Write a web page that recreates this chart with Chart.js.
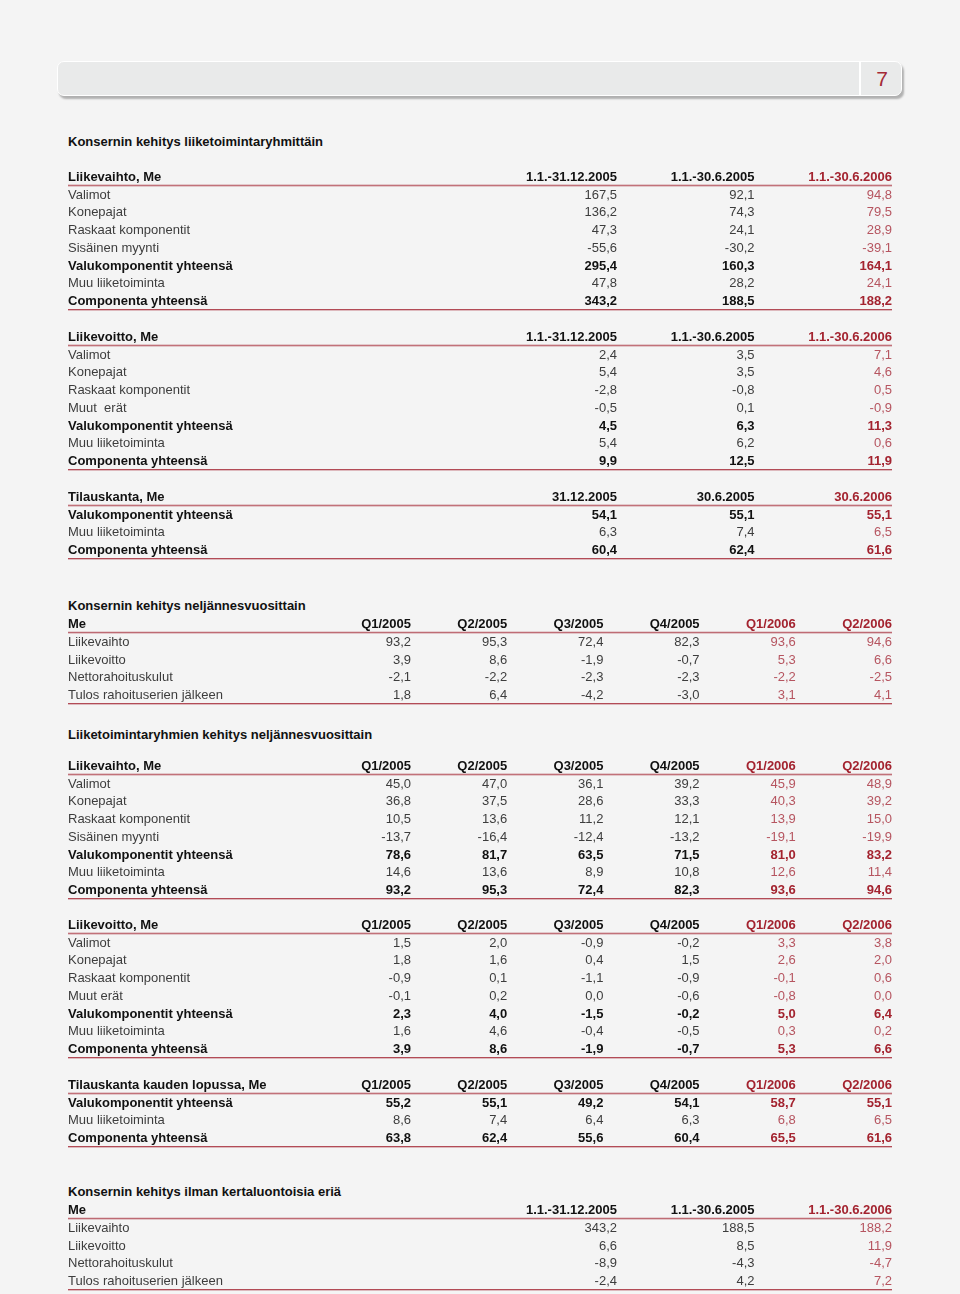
<!DOCTYPE html>
<html lang="fi">
<head>
<meta charset="utf-8">
<script src="https://cdn.jsdelivr.net/npm/chart.js@4/dist/chart.umd.min.js"></script>
<style>
  html, body { margin:0; padding:0; background:#f4f4f4; }
  body { width:960px; height:1294px; position:relative; overflow:hidden; font-family:"Liberation Sans", Arial, sans-serif; }
  .bar { position:absolute; left:57px; top:61px; width:843px; height:33px; background:#e9eaea; border:1.5px solid #fff; border-radius:7px; box-shadow:2px 3px 2px rgba(0,0,0,0.28); }
  .bar .sep { position:absolute; left:801px; top:0; width:1.5px; height:100%; background:#fff; }
  .bar .num { position:absolute; left:803px; width:42px; top:0; height:33px; line-height:33px; text-align:center; color:#a42a36; font-size:21px; font-family:"Liberation Sans", Arial, sans-serif; }
  .title { position:absolute; left:68px; height:18px; line-height:18px; font-size:13px; font-weight:bold; color:#111; white-space:nowrap; }
  canvas { position:absolute; left:0; }
</style>
</head>
<body>
<div class="bar"><div class="sep"></div><div class="num">7</div></div>

<script>
// ---------- column labels ----------
const colsPeriod = ['1.1.-31.12.2005', '1.1.-30.6.2005', '1.1.-30.6.2006'];
const colsOrderDate = ['31.12.2005', '30.6.2005', '30.6.2006'];
const colsQuarter = ['Q1/2005', 'Q2/2005', 'Q3/2005', 'Q4/2005', 'Q1/2006', 'Q2/2006'];

// ---------- row labels ----------
const rowsSales = ['Valimot', 'Konepajat', 'Raskaat komponentit', 'Sisäinen myynti', 'Valukomponentit yhteensä', 'Muu liiketoiminta', 'Componenta yhteensä'];
const rowsEbit = ['Valimot', 'Konepajat', 'Raskaat komponentit', 'Muut  erät', 'Valukomponentit yhteensä', 'Muu liiketoiminta', 'Componenta yhteensä'];
const rowsEbitQ = ['Valimot', 'Konepajat', 'Raskaat komponentit', 'Muut erät', 'Valukomponentit yhteensä', 'Muu liiketoiminta', 'Componenta yhteensä'];
const rowsOrders = ['Valukomponentit yhteensä', 'Muu liiketoiminta', 'Componenta yhteensä'];
const rowsGroup = ['Liikevaihto', 'Liikevoitto', 'Nettorahoituskulut', 'Tulos rahoituserien jälkeen'];
const boldRows = ['Valukomponentit yhteensä', 'Componenta yhteensä'];

// ---------- Liikevaihto, Me (periods) ----------
const salesFY2005 = [167.5, 136.2, 47.3, -55.6, 295.4, 47.8, 343.2];
const salesH1_2005 = [92.1, 74.3, 24.1, -30.2, 160.3, 28.2, 188.5];
const salesH1_2006 = [94.8, 79.5, 28.9, -39.1, 164.1, 24.1, 188.2];

// ---------- Liikevoitto, Me (periods) ----------
const ebitFY2005 = [2.4, 5.4, -2.8, -0.5, 4.5, 5.4, 9.9];
const ebitH1_2005 = [3.5, 3.5, -0.8, 0.1, 6.3, 6.2, 12.5];
const ebitH1_2006 = [7.1, 4.6, 0.5, -0.9, 11.3, 0.6, 11.9];

// ---------- Tilauskanta, Me ----------
const orders_31_12_2005 = [54.1, 6.3, 60.4];
const orders_30_6_2005 = [55.1, 7.4, 62.4];
const orders_30_6_2006 = [55.1, 6.5, 61.6];

// ---------- Konsernin kehitys neljännesvuosittain ----------
const groupQ1_2005 = [93.2, 3.9, -2.1, 1.8];
const groupQ2_2005 = [95.3, 8.6, -2.2, 6.4];
const groupQ3_2005 = [72.4, -1.9, -2.3, -4.2];
const groupQ4_2005 = [82.3, -0.7, -2.3, -3.0];
const groupQ1_2006 = [93.6, 5.3, -2.2, 3.1];
const groupQ2_2006 = [94.6, 6.6, -2.5, 4.1];

// ---------- Liikevaihto, Me (quarters) ----------
const salesQ1_2005 = [45.0, 36.8, 10.5, -13.7, 78.6, 14.6, 93.2];
const salesQ2_2005 = [47.0, 37.5, 13.6, -16.4, 81.7, 13.6, 95.3];
const salesQ3_2005 = [36.1, 28.6, 11.2, -12.4, 63.5, 8.9, 72.4];
const salesQ4_2005 = [39.2, 33.3, 12.1, -13.2, 71.5, 10.8, 82.3];
const salesQ1_2006 = [45.9, 40.3, 13.9, -19.1, 81.0, 12.6, 93.6];
const salesQ2_2006 = [48.9, 39.2, 15.0, -19.9, 83.2, 11.4, 94.6];

// ---------- Liikevoitto, Me (quarters) ----------
const ebitQ1_2005 = [1.5, 1.8, -0.9, -0.1, 2.3, 1.6, 3.9];
const ebitQ2_2005 = [2.0, 1.6, 0.1, 0.2, 4.0, 4.6, 8.6];
const ebitQ3_2005 = [-0.9, 0.4, -1.1, 0.0, -1.5, -0.4, -1.9];
const ebitQ4_2005 = [-0.2, 1.5, -0.9, -0.6, -0.2, -0.5, -0.7];
const ebitQ1_2006 = [3.3, 2.6, -0.1, -0.8, 5.0, 0.3, 5.3];
const ebitQ2_2006 = [3.8, 2.0, 0.6, 0.0, 6.4, 0.2, 6.6];

// ---------- Tilauskanta kauden lopussa, Me ----------
const ordersQ1_2005 = [55.2, 8.6, 63.8];
const ordersQ2_2005 = [55.1, 7.4, 62.4];
const ordersQ3_2005 = [49.2, 6.4, 55.6];
const ordersQ4_2005 = [54.1, 6.3, 60.4];
const ordersQ1_2006 = [58.7, 6.8, 65.5];
const ordersQ2_2006 = [55.1, 6.5, 61.6];

// ---------- Konsernin kehitys ilman kertaluontoisia eriä ----------
const adjFY2005 = [343.2, 6.6, -8.9, -2.4];
const adjH1_2005 = [188.5, 8.5, -4.3, 4.2];
const adjH1_2006 = [188.2, 11.9, -4.7, 7.2];

// ---------- section titles ----------
const titles = [
  ['Konsernin kehitys liiketoimintaryhmittäin', 141],
  ['Konsernin kehitys neljännesvuosittain', 605],
  ['Liiketoimintaryhmien kehitys neljännesvuosittain', 734],
  ['Konsernin kehitys ilman kertaluontoisia eriä', 1191]
];

// ---------- layout / style ----------
const ROW_H = 17.71;
const LABEL_X = 68;
const RIGHT_X = 892;
const TEXT_DY = 1.5;
const FONT = '"Liberation Sans", Arial, sans-serif';
const C_TEXT = '#3d3d3d', C_BOLD = '#111111', C_RED = '#b65560', C_RED_BOLD = '#a3232f', C_LINE = '#b24b56';

const fmt = v => v.toFixed(1).replace('.', ',');

titles.forEach(([t, y]) => {
  const d = document.createElement('div');
  d.className = 'title'; d.textContent = t; d.style.top = (y - 8) + 'px';
  document.body.appendChild(d);
});

const tablePlugin = {
  id: 'tableText',
  afterDatasetsDraw(chart) {
    const ctx = chart.ctx, xs = chart.scales.x, ys = chart.scales.y;
    const cfg = chart.options.plugins.tableText;
    const cols = xs.getLabels(), rows = ys.getLabels();
    const halfW = (chart.chartArea.right - chart.chartArea.left) / cols.length / 2;
    const isRed = c => c >= cfg.redFrom;
    ctx.save();
    ctx.textBaseline = 'middle';
    // header row
    const hy = ys.getPixelForValue(0);
    ctx.font = 'bold 13px ' + FONT;
    ctx.textAlign = 'left'; ctx.fillStyle = C_BOLD;
    ctx.fillText(rows[0], LABEL_X, hy + TEXT_DY);
    ctx.textAlign = 'right';
    cols.forEach((c, i) => {
      ctx.fillStyle = isRed(i) ? C_RED_BOLD : C_BOLD;
      ctx.fillText(c, xs.getPixelForValue(i) + halfW, hy + TEXT_DY);
    });
    // row labels
    for (let r = 1; r < rows.length; r++) {
      const bold = boldRows.includes(rows[r]);
      ctx.font = (bold ? 'bold ' : '') + '13px ' + FONT;
      ctx.fillStyle = bold ? C_BOLD : C_TEXT;
      ctx.textAlign = 'left';
      ctx.fillText(rows[r], LABEL_X, ys.getPixelForValue(r) + TEXT_DY);
    }
    // cells at point positions
    ctx.textAlign = 'right';
    chart.data.datasets.forEach((ds, c) => {
      const meta = chart.getDatasetMeta(c);
      meta.data.forEach((el, i) => {
        const bold = boldRows.includes(ds.data[i].y);
        ctx.font = (bold ? 'bold ' : '') + '13px ' + FONT;
        ctx.fillStyle = isRed(c) ? (bold ? C_RED_BOLD : C_RED) : (bold ? C_BOLD : C_TEXT);
        ctx.fillText(fmt(ds.data[i].v), el.x + halfW, el.y + TEXT_DY);
      });
    });
    // red rules
    const rowStep = ys.getPixelForValue(1) - ys.getPixelForValue(0);
    const lines = [hy + rowStep / 2 + 0.5, ys.getPixelForValue(rows.length - 1) + rowStep / 2 + 0.5];
    lines.forEach(y => {
      ctx.strokeStyle = C_LINE; ctx.lineWidth = 1;
      ctx.beginPath(); ctx.moveTo(LABEL_X, y); ctx.lineTo(RIGHT_X, y); ctx.stroke();
      ctx.strokeStyle = 'rgba(178,75,86,0.35)';
      ctx.beginPath(); ctx.moveTo(LABEL_X, y + 1); ctx.lineTo(RIGHT_X, y + 1); ctx.stroke();
    });
    ctx.restore();
  }
};

function makeTable(headerY, header, cols, rows, series, redFrom) {
  const nRows = rows.length + 1;
  const h = Math.round(nRows * ROW_H);
  const cv = document.createElement('canvas');
  cv.width = 960; cv.height = h + 6;
  cv.style.top = (headerY - h / nRows / 2) + 'px';
  document.body.appendChild(cv);
  const colW = cols.length === 3 ? 137.5 : 96.2;
  const left = RIGHT_X - colW * cols.length;
  const datasets = cols.map((c, ci) => ({
    label: c,
    data: rows.map((r, ri) => ({ x: c, y: r, v: series[ci][ri] })),
    pointRadius: 0, pointHoverRadius: 0
  }));
  new Chart(cv, {
    type: 'scatter',
    data: { datasets },
    options: {
      responsive: false, animation: false, devicePixelRatio: 1, events: [],
      layout: { padding: { left: left, right: 960 - RIGHT_X, top: 0, bottom: 6 } },
      scales: {
        x: { type: 'category', labels: cols, offset: true, display: false },
        y: { type: 'category', labels: [header].concat(rows), offset: true, display: false }
      },
      plugins: { legend: { display: false }, tooltip: { enabled: false }, tableText: { redFrom } }
    },
    plugins: [tablePlugin]
  });
}

makeTable(176, 'Liikevaihto, Me', colsPeriod, rowsSales, [salesFY2005, salesH1_2005, salesH1_2006], 2);
makeTable(336, 'Liikevoitto, Me', colsPeriod, rowsEbit, [ebitFY2005, ebitH1_2005, ebitH1_2006], 2);
makeTable(496, 'Tilauskanta, Me', colsOrderDate, rowsOrders, [orders_31_12_2005, orders_30_6_2005, orders_30_6_2006], 2);
makeTable(623, 'Me', colsQuarter, rowsGroup, [groupQ1_2005, groupQ2_2005, groupQ3_2005, groupQ4_2005, groupQ1_2006, groupQ2_2006], 4);
makeTable(765, 'Liikevaihto, Me', colsQuarter, rowsSales, [salesQ1_2005, salesQ2_2005, salesQ3_2005, salesQ4_2005, salesQ1_2006, salesQ2_2006], 4);
makeTable(924, 'Liikevoitto, Me', colsQuarter, rowsEbitQ, [ebitQ1_2005, ebitQ2_2005, ebitQ3_2005, ebitQ4_2005, ebitQ1_2006, ebitQ2_2006], 4);
makeTable(1084, 'Tilauskanta kauden lopussa, Me', colsQuarter, rowsOrders, [ordersQ1_2005, ordersQ2_2005, ordersQ3_2005, ordersQ4_2005, ordersQ1_2006, ordersQ2_2006], 4);
makeTable(1209, 'Me', colsPeriod, rowsGroup, [adjFY2005, adjH1_2005, adjH1_2006], 2);
</script>
</body>
</html>
